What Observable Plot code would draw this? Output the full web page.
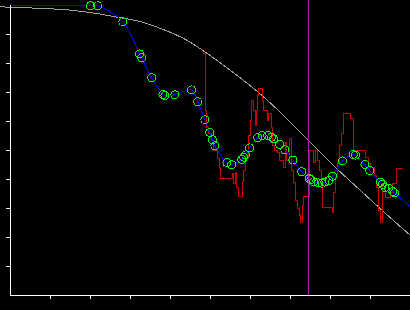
<!DOCTYPE html>
<html><head><meta charset="utf-8">
<script src="https://cdn.jsdelivr.net/npm/d3@7"></script>
<script src="https://cdn.jsdelivr.net/npm/@observablehq/plot@0.6"></script>
<style>html,body{margin:0;padding:0;background:#000;overflow:hidden}
svg, svg *{shape-rendering:crispEdges}</style>
</head><body><div id="chart"></div>
<script>
// Grey reference curve
const greyX = [-0.25,0,0.625,1.075,1.5,1.8,2.175,2.5,2.825,3.175,3.75,4.425,4.7,5.5,6.2,6.825,7.45,8.075,8.75,9.375,10];
const greyY = [9.97,9.93,9.91,9.88,9.84,9.79,9.72,9.64,9.56,9.47,9.21,8.79,8.55,7.76,7.0,6.21,5.34,4.48,3.62,2.83,2.07];

// Red noisy measured series (step samples)
const redX = [4.825,4.875,4.9,4.95,5.025,5.075,5.175,5.225,5.25,5.55,
  5.575,5.625,5.65,5.7,5.8,5.825,5.875,5.95,6.0,6.025,
  6.075,6.125,6.15,6.175,6.2,6.3,6.325,6.425,6.45,6.525,
  6.55,6.6,6.675,6.725,6.825,6.875,6.9,6.975,7.025,7.075,
  7.125,7.175,7.225,7.25,7.3,7.325,7.475,7.575,7.625,7.675,
  7.725,7.775,7.8,8.05,8.075,8.125,8.175,8.225,8.275,8.325,
  8.5,8.575,8.875,8.95,9.0,9.1,9.15,9.2,9.25,9.3,
  9.375,9.5,9.55,9.65,9.8];
const redY = [8.34,6.38,5.79,5.59,5.34,5.0,4.72,4.38,4.03,4.21,
  3.86,4.24,3.72,3.41,3.93,4.31,4.83,5.52,6.03,6.72,
  6.38,5.86,6.38,6.90,7.14,6.72,6.38,6.03,6.28,5.79,
  5.17,5.0,4.93,4.66,4.41,5.28,4.66,5.41,4.31,3.90,
  3.28,3.0,2.76,2.52,3.10,3.41,5.0,4.59,5.0,4.66,
  4.31,3.79,3.03,2.86,3.55,4.07,4.55,5.17,5.59,6.28,
  6.10,5.0,4.76,4.55,4.41,4.14,3.72,2.93,2.52,3.86,
  3.38,3.55,3.86,4.38,4.38];

// Green sample points (smoothed by blue curve)
const ptX = [2.0,2.18,2.81,3.23,3.28,3.53,3.81,3.86,4.11,4.53,4.68,4.86,4.98,5.05,5.11,5.41,5.53,5.78,5.83,5.88,5.98,6.18,6.29,6.43,6.53,6.58,6.73,6.86,7.06,7.28,7.47,7.51,7.58,7.70,7.79,7.86,7.96,8.05,8.30,8.57,8.63,8.86,8.98,9.25,9.30,9.36,9.45,9.56,9.60];
const ptY = [9.99,9.99,9.44,8.33,8.20,7.51,6.93,6.90,6.92,7.09,6.68,6.06,5.62,5.37,5.16,4.58,4.51,4.69,4.77,4.85,5.09,5.44,5.52,5.52,5.46,5.40,5.21,5.02,4.67,4.27,4.03,4.00,3.92,3.88,3.87,3.91,3.97,4.11,4.64,4.86,4.84,4.52,4.31,3.90,3.83,3.73,3.70,3.59,3.54];
// blue curve end values
const blueStart = [0, 9.99];
const blueEnd = [10, 3.06];

const markerX = 7.46;
const xTicks = [1,2,3,4,5,6,7,8,9];
const yTicks = [1,2,3,4,5,6,7,8,9];

const grey = greyX.map((x, i) => ({x, y: greyY[i]}));
const red = redX.map((x, i) => ({x, y: redY[i]}));
const pts = ptX.map((x, i) => ({x, y: ptY[i]}));
const blue = [{x: blueStart[0], y: blueStart[1]}, ...pts, {x: blueEnd[0], y: blueEnd[1]}];

const plot = Plot.plot({
  width: 410, height: 310,
  marginLeft: 10, marginRight: 0, marginTop: 5, marginBottom: 15,
  x: {domain: [0, 10], label: null},
  y: {domain: [0, 10], label: null},
  style: {background: "#000", color: "#fff", overflow: "visible"},
  marks: [
    Plot.line(grey, {x: "x", y: "y", stroke: "#a0a0a0", strokeWidth: 1, curve: "monotone-x"}),
    Plot.line(red, {x: "x", y: "y", stroke: "#cc0000", strokeWidth: 1, curve: "step-after"}),
    Plot.line(blue, {x: "x", y: "y", stroke: "#0000ff", strokeWidth: 1, curve: "catmull-rom"}),
    Plot.dot(pts, {x: "x", y: "y", r: 4, stroke: "#00ff00", strokeWidth: 1}),
    Plot.ruleX([markerX], {y1: 0, y2: 10.17, stroke: "#a020a0", strokeWidth: 1}),
    Plot.ruleX([0], {y1: 0, y2: 10, stroke: "#fff"}),
    Plot.ruleY([0], {x1: 0, x2: 10, stroke: "#fff"}),
    Plot.axisX({ticks: xTicks, tickSize: 4, tickFormat: () => "", label: null, stroke: "#fff"}),
    Plot.axisY({ticks: yTicks, tickSize: 4, tickFormat: () => "", label: null, stroke: "#fff"})
  ]
});
document.getElementById("chart").appendChild(plot);
</script>
</body></html>
